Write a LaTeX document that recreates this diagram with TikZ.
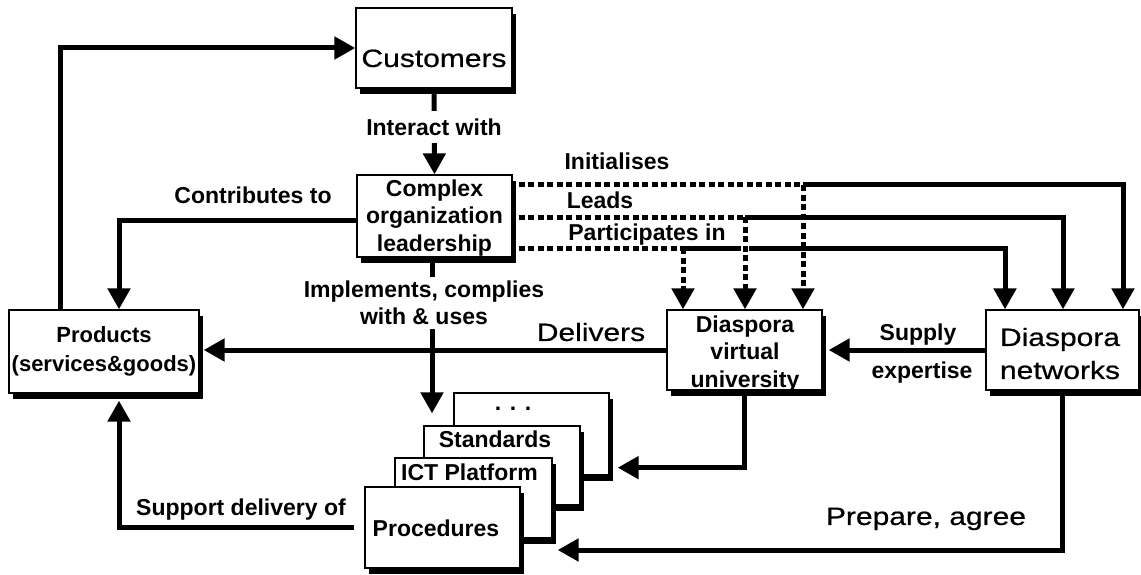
\documentclass[tikz,border=0pt]{standalone}
\usepackage{fontspec}
\setmainfont{Liberation Sans}
\newfontfamily\widefont[FakeStretch=1.2,FakeBold=0.6]{Liberation Sans}
\usetikzlibrary{arrows.meta,shadows,calc}

\begin{document}
\begin{tikzpicture}[x=1pt,y=-1pt,
  box/.style={draw, line width=1.3pt, fill=white, inner sep=0pt,
    general shadow={fill=black, shadow xshift=4pt, shadow yshift=-6pt}},
  lbl/.style={font=\bfseries\fontsize{23}{27.5}\selectfont, inner sep=0pt, align=center},
  big/.style={font=\widefont\fontsize{25}{33}\selectfont, inner sep=0pt, align=center},
  one/.style={text height=16.5pt, text depth=0pt},
  onebig/.style={text height=17.9pt, text depth=0pt},
  tip/.style={-{Triangle[length=21pt,width=22pt]}},
  conn/.style={line width=5pt, line join=miter},
  dotlink/.style={dash pattern=on 6pt off 3.5pt},
]
\fill[white] (0,0) rectangle (1141,575);
\useasboundingbox (0,0) rectangle (1141,575);

% boxes
\node[box, minimum width=156pt, minimum height=80pt] (cust) at (434,48) {};
\node[box, minimum width=155pt, minimum height=82pt] (cpx) at (434.5,216) {};
\node[box, minimum width=190pt, minimum height=83pt] (prod) at (104,351.5) {};
\node[box, minimum width=155pt, minimum height=80pt] (dvu) at (744.5,350) {};
\node[box, minimum width=153pt, minimum height=80pt] (dn) at (1062.5,350) {};
% stacked documents
\node[box, minimum width=155pt, minimum height=82pt] (dots) at (531.5,434) {};
\node[box, minimum width=156pt, minimum height=79pt] (std) at (502,465.5) {};
\node[box, minimum width=157pt, minimum height=80pt] (ict) at (473.5,498) {};
\node[box, minimum width=155pt, minimum height=81pt] (proc) at (442.5,527.5) {};

% helper positions
\coordinate (xa) at (60,0);
\coordinate (xb) at (119,0);
\coordinate (xi) at (432,0);
\coordinate (j1) at (803,185);
\coordinate (j2) at (745,217);
\coordinate (j3) at (683,248);

% connectors
\draw[conn, tip] (xa |- prod.north) |- (cust.west);
\draw[conn, tip] (cust.south) -- (cpx.north);
\draw[conn, tip] ([yshift=-4pt]cpx.west) -| (xb |- prod.north);
\draw[conn, tip] (xi |- cpx.south) -- ($(xi |- std.north)+(0,-12)$);
\draw[conn, tip] (dvu.west) -- ($(dvu.west -| prod.east)+(4,0)$);
\draw[conn, tip] (dn.west) -- ($(dvu.east)+(6,0)$);
\draw[conn, tip] (dvu.south) |- ($(dots.south east)+(8,-8)$);
\draw[conn, tip] (dn.south) |- ($(proc.east)+(37,22.5)$);
\draw[conn, tip] ([xshift=-10pt]proc.west) -| ($(xb |- prod.south)+(0,7)$);

% leadership links to the diaspora bodies
\draw[conn, dotlink] ($(cpx.east)+(6,-31)$) -- (j1);
\draw[conn, dotlink] ($(cpx.east)+(6,1)$) -- (j2);
\draw[conn, dotlink] ($(cpx.east)+(6,32)$) -- (j3);
\draw[conn, tip] (j1) -| ($(dn.north)+(60.5,0)$);
\draw[conn, tip] (j2) -| ($(dn.north)+(0.5,0)$);
\draw[conn, tip] (j3) -| ($(dn.north)+(-57.5,0)$);
% the "Leads" drop jumps over the "Participates in" line
\draw[white, line width=8pt] ($(j2 |- j3)+(-4,0)$) -- ($(j2 |- j3)+(4,0)$);
\draw[conn, dotlink, tip] (j1) -- (j1 |- dvu.north);
\draw[conn, dotlink, tip] (j2) -- (j2 |- dvu.north);
\draw[conn, dotlink, tip] (j3) -- (j3 |- dvu.north);

% box texts
\node[big, onebig] (cust-t) at (434,58) {Customers};
\node[lbl] (cpx-t) at (434.5,218) {Complex\\organization\\leadership};
\node[lbl, font=\bfseries\fontsize{22}{29}\selectfont] (prod-t) at (104,351) {Products\\(services\&goods)};
\node[lbl] (dvu-t) at (745,354) {Diaspora\\virtual\\university};
\node[big] (dn-t) at (1060,353.5) {Diaspora\\networks};
\node[lbl, anchor=base] (dots-t) at (513,410) {.\hspace{8.6pt}.\hspace{8.6pt}.};
\node[lbl, one] (std-t) at (495,439.5) {Standards};
\node[lbl, one] (ict-t) at (469.5,472.5) {ICT Platform};
\node[lbl, one] (proc-t) at (436,528) {Procedures};

% connector labels
\node[lbl, one, fill=white, inner xsep=3pt, inner ysep=8pt] (l-int) at (434,127) {Interact with};
\node[lbl, one] (l-con) at (253,195) {Contributes to};
\node[lbl, fill=white, inner sep=4pt] (l-imp) at (424,303) {Implements, complies\\with \& uses};
\node[big, onebig] (l-del) at (591,332) {Delivers};
\node[lbl, one] (l-sup1) at (918,332) {Supply};
\node[lbl, one] (l-sup2) at (922,370) {expertise};
\node[big, onebig] (l-prep) at (926,516) {Prepare, agree};
\node[lbl, one] (l-supp) at (241,507) {Support delivery of};
\node[lbl, one] (l-ini) at (617,161) {Initialises};
\node[lbl, one] (l-lead) at (600,200.5) {Leads};
\node[lbl, one] (l-part) at (647,232.5) {Participates in};
\end{tikzpicture}
\end{document}
